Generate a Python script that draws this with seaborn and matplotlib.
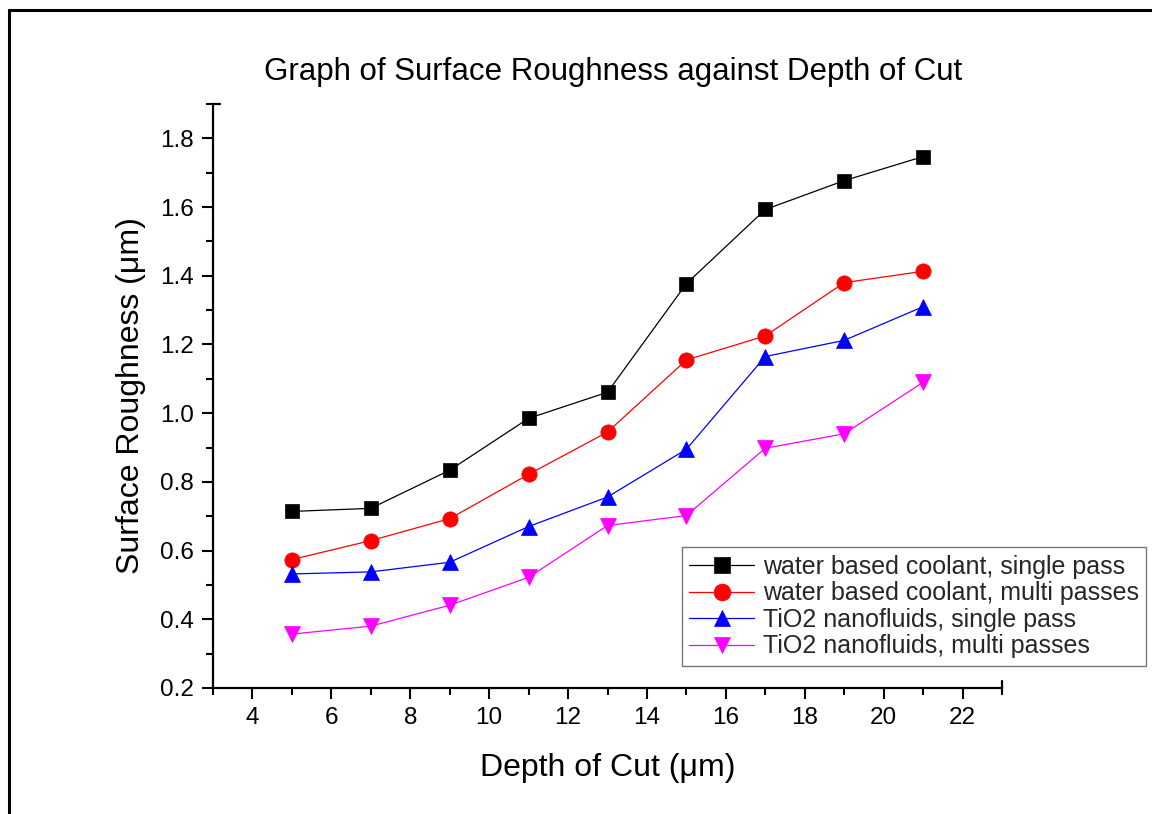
import matplotlib
matplotlib.use("Agg")
import matplotlib.pyplot as plt
import seaborn as sns
import pandas as pd
from matplotlib.lines import Line2D
from matplotlib.ticker import MultipleLocator

depth = [5, 7, 9, 11, 13, 15, 17, 19, 21]
water_single = [0.714, 0.723, 0.834, 0.985, 1.061, 1.377, 1.593, 1.677, 1.747]
water_multi = [0.574, 0.629, 0.693, 0.822, 0.945, 1.155, 1.225, 1.380, 1.413]
tio2_single = [0.532, 0.538, 0.566, 0.670, 0.756, 0.895, 1.165, 1.212, 1.310]
tio2_multi = [0.357, 0.380, 0.441, 0.522, 0.673, 0.702, 0.898, 0.940, 1.090]

labels = ["water based coolant, single pass", "water based coolant, multi passes",
          "TiO2 nanofluids, single pass", "TiO2 nanofluids, multi passes"]
series = [water_single, water_multi, tio2_single, tio2_multi]

rows = []
for lab, vals in zip(labels, series):
    for d, v in zip(depth, vals):
        rows.append({"Depth": d, "Roughness": v, "Series": lab})
df = pd.DataFrame(rows)

sns.set_theme(style="ticks")
plt.rcParams['font.family'] = ['Liberation Sans', 'DejaVu Sans']

colors = ["#000000", "#ff0000", "#0000ff", "#ff00ff"]
markers = ["s", "o", "^", "v"]
sizes = [10, 11, 11, 11]

fig = plt.figure(figsize=(11.52, 8.14), dpi=100)
ax = fig.add_axes([0.1849, 0.1548, 0.6849, 0.7174])

for lab, c, m, ms in zip(labels, colors, markers, sizes):
    sub = df[df["Series"] == lab]
    sns.lineplot(data=sub, x="Depth", y="Roughness", ax=ax, color=c, marker=m,
                 markersize=ms, markeredgecolor=c, linewidth=0.9, label=lab,
                 markeredgewidth=0.5)

ax.set_xlim(3, 23)
ax.set_ylim(0.2, 1.9)
ax.xaxis.set_minor_locator(MultipleLocator(1))
ax.yaxis.set_minor_locator(MultipleLocator(0.1))
ax.set_xticks(range(4, 23, 2))
ax.set_yticks([0.2, 0.4, 0.6, 0.8, 1.0, 1.2, 1.4, 1.6, 1.8])
ax.set_yticklabels(["0.2", "0.4", "0.6", "0.8", "1.0", "1.2", "1.4", "1.6", "1.8"])
ax.tick_params(axis='both', which='major', direction='out', length=8, width=1.5,
               labelsize=17.5, color='black', labelcolor='black', pad=6)
ax.tick_params(axis='both', which='minor', direction='out', length=5, width=1.5, color='black')

for s in ["top", "right"]:
    ax.spines[s].set_visible(False)
for s in ["left", "bottom"]:
    ax.spines[s].set_linewidth(1.6)
    ax.spines[s].set_color('black')

# end caps of axes (Origin style)
ax.add_line(Line2D([1, 1], [0, 0.012], transform=ax.transAxes, color='black', lw=1.6, clip_on=False))
ax.add_line(Line2D([0, 0.009], [1, 1], transform=ax.transAxes, color='black', lw=1.6, clip_on=False))

ax.set_xlabel("Depth of Cut (\u03bcm)", fontsize=23, labelpad=17, color='black')
ax.set_ylabel("Surface Roughness (\u03bcm)", fontsize=23, labelpad=10, color='black')
fig.text(0.532, 0.912, "Graph of Surface Roughness against Depth of Cut", ha='center',
         va='center', fontsize=22.5, color='black')

leg = ax.legend(loc='upper left', bbox_to_anchor=(0.594, 0.241), borderaxespad=0,
                fontsize=18, frameon=True, fancybox=False, handlelength=2.6,
                handletextpad=0.35, labelspacing=0.1, borderpad=0.3,
                markerscale=1.1)
leg.get_frame().set_edgecolor('#555555')
leg.get_frame().set_linewidth(1.0)

# figure border (left and top)
fig.add_artist(Line2D([0.0078, 0.0078], [0, 0.9877], transform=fig.transFigure, color='black', lw=2.2))
fig.add_artist(Line2D([0.0078, 1.0], [0.9877, 0.9877], transform=fig.transFigure, color='black', lw=2.2))

fig.savefig("out.png", dpi=100)
